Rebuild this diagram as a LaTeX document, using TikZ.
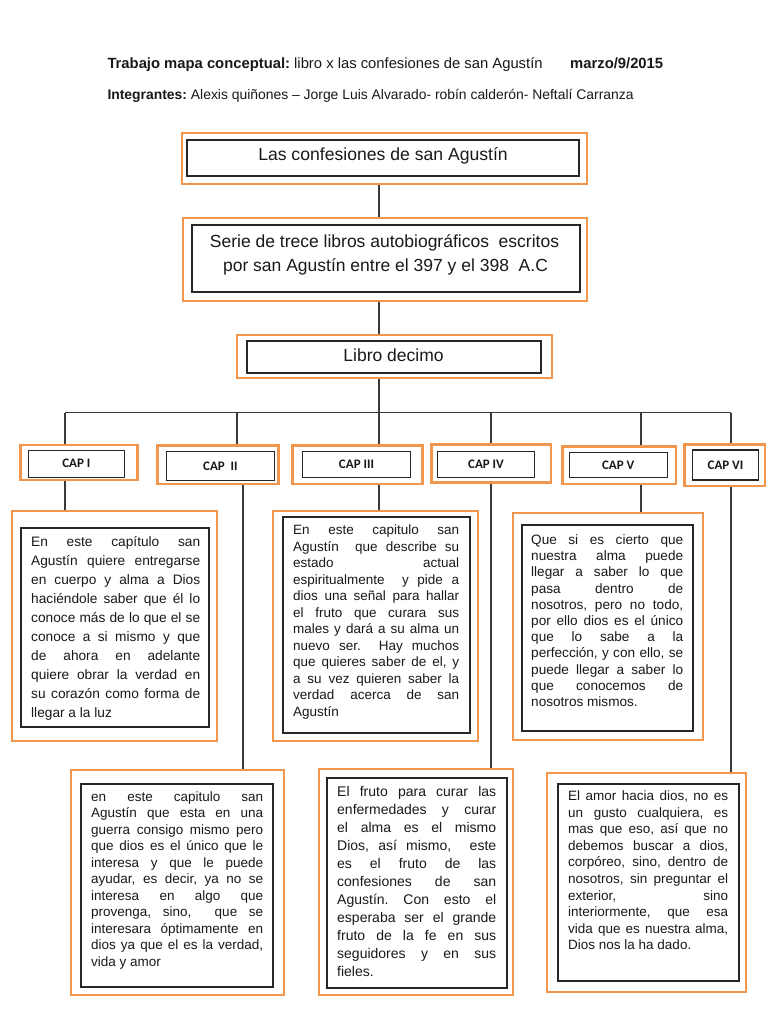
\documentclass[tikz,border=0pt]{standalone}
\usepackage{fontspec}
\setmainfont{Liberation Sans}
\newfontfamily\capfont{Carlito}
\definecolor{orng}{HTML}{F1974D}
\definecolor{conncol}{HTML}{3A3A3A}
\frenchspacing
\newcommand\jl[1]{\makebox[\linewidth][s]{#1}\\}
\newcommand\bodytext[4]{\parbox[t]{#1pt}{\frenchspacing\fontsize{#2pt}{#3pt}\selectfont\noindent\ignorespaces #4}}
\begin{document}
\begin{tikzpicture}[x=1pt,y=-1pt,
  obox/.style={draw=orng, line width=2.8pt, inner sep=0pt, fill=white},
  ibox/.style={draw=black!85, line width=1.1pt, inner sep=0pt},
  conn/.style={draw=conncol, line width=1.2pt},
  lbl/.style={inner sep=0pt, anchor=base, text=black!90},
  body/.style={inner sep=0pt, anchor=base west, text=black!90},
  capbox/.style={ibox, text=black!90, font=\capfont\bfseries\fontsize{13pt}{15pt}\selectfont}]
\fill[white] (0,0) rectangle (768,1024);
\useasboundingbox (0,0) rectangle (768,1024);

% header
\node[lbl, anchor=base west] (hdr1) at (107.3,68.3) {\fontsize{14.8pt}{17pt}\selectfont\textbf{Trabajo mapa conceptual:} libro x las confesiones de san Agustín};
\node[lbl, anchor=base west] (hdr1b) at (570,68.3) {\fontsize{14.8pt}{17pt}\selectfont\textbf{marzo/9/2015}};
\node[lbl, anchor=base west] (hdr2) at (107.3,99.3) {\fontsize{13.9pt}{17pt}\selectfont\textbf{Integrantes:} Alexis quiñones – Jorge Luis Alvarado- robín calderón- Neftalí Carranza};

% top boxes
\node[obox, minimum width=405pt, minimum height=51pt] (b1o) at (384.5,158.5) {};
\node[ibox, minimum width=392pt, minimum height=36pt] (b1i) at (383,158) {};
\node[lbl] (b1t) at (383,161) {\fontsize{17.6pt}{20pt}\selectfont Las confesiones de san Agustín};

\node[obox, minimum width=404pt, minimum height=83pt] (b2o) at (385,259.5) {};
\node[ibox, minimum width=388pt, minimum height=67pt] (b2i) at (386,258.5) {};
\node[lbl] (b2t1) at (384.5,247.7) {\fontsize{17.5pt}{20pt}\selectfont Serie de trece libros autobiográficos\ \ escritos};
\node[lbl] (b2t2) at (385.5,271.7) {\fontsize{17.5pt}{20pt}\selectfont por san Agustín entre el 397 y el 398\ \ A.C};

\node[obox, minimum width=315pt, minimum height=43pt] (b3o) at (394.5,356.5) {};
\node[ibox, minimum width=294pt, minimum height=32pt] (b3i) at (394,357) {};
\node[lbl] (b3t) at (393.5,361.7) {\fontsize{17.5pt}{20pt}\selectfont Libro decimo};

% chapter boxes
\node[obox, minimum width=116.6pt, minimum height=35pt] (c1o) at (79,462.5) {};
\node[capbox, minimum width=96pt, minimum height=27.3pt] (c1i) at (76.3,463.7) {CAP I};
\node[obox, minimum width=121pt, minimum height=38.3pt] (c2o) at (217.8,464.9) {};
\node[capbox, minimum width=107.3pt, minimum height=29pt] (c2i) at (220.4,466.2) {CAP\ \ II};
\node[obox, minimum width=130pt, minimum height=38.3pt] (c3o) at (357.7,464.9) {};
\node[capbox, minimum width=108.4pt, minimum height=25.6pt] (c3i) at (356.5,464.5) {CAP III};
\node[obox, minimum width=119.3pt, minimum height=38.4pt] (c4o) at (491.4,463.5) {};
\node[capbox, minimum width=96.6pt, minimum height=25.6pt] (c4i) at (486,464.5) {CAP IV};
\node[obox, minimum width=113.3pt, minimum height=37.3pt] (c5o) at (619.4,465.4) {};
\node[capbox, minimum width=98.3pt, minimum height=25pt] (c5i) at (618.2,464.8) {CAP V};
\node[obox, minimum width=80.7pt, minimum height=41.7pt] (c6o) at (724.7,465.2) {};
\node[capbox, minimum width=65.6pt, minimum height=30pt] (c6i) at (725.5,465) {CAP VI\hspace{8pt}};

% text boxes
\node[obox, minimum width=205pt, minimum height=230pt] (t1o) at (114.5,626) {};
\node[ibox, minimum width=188pt, minimum height=199pt] (t1i) at (115,627.5) {};
\node[obox, minimum width=205pt, minimum height=230pt] (t3o) at (375.5,626) {};
\node[ibox, minimum width=187pt, minimum height=216pt] (t3i) at (376.5,625) {};
\node[obox, minimum width=190pt, minimum height=227pt] (t5o) at (608,626.5) {};
\node[ibox, minimum width=171pt, minimum height=206pt] (t5i) at (607.5,628) {};
\node[obox, minimum width=213pt, minimum height=225pt] (t2o) at (177.5,882.5) {};
\node[ibox, minimum width=192pt, minimum height=203pt] (t2i) at (177,885.5) {};
\node[obox, minimum width=194pt, minimum height=226pt] (t4o) at (416,882) {};
\node[ibox, minimum width=180pt, minimum height=210pt] (t4i) at (417,883) {};
\node[obox, minimum width=199pt, minimum height=219pt] (t6o) at (646.5,882.5) {};
\node[ibox, minimum width=181pt, minimum height=197pt] (t6i) at (648.5,882.5) {};

% body texts
\node[body] (t1txt) at (31,546.2) {\bodytext{169}{13.7}{19}{\jl{En este capítulo san}
\jl{Agustín quiere entregarse}
\jl{en cuerpo y alma a Dios}
\jl{haciéndole saber que él lo}
\jl{conoce más de lo que el se}
\jl{conoce a si mismo y que}
\jl{de ahora en adelante}
\jl{quiere obrar la verdad en}
\jl{su corazón como forma de}
llegar a la luz}};

\node[body] (t3txt) at (293,534.5) {\bodytext{166}{13.5}{16.5}{\jl{En este capitulo san}
\jl{Agustín\ \ que describe su}
\jl{estado actual}
\jl{espiritualmente\ \ y pide a}
\jl{dios una señal para hallar}
\jl{el fruto que curara sus}
\jl{males y dará a su alma un}
\jl{nuevo ser.\ \ Hay muchos}
\jl{que quieres saber de el, y}
\jl{a su vez quieren saber la}
\jl{verdad acerca de san}
Agustín}};

\node[body] (t5txt) at (531,544.5) {\bodytext{152}{13.6}{16.2}{\jl{Que si es cierto que}
\jl{nuestra alma puede}
\jl{llegar a saber lo que}
\jl{pasa dentro de}
\jl{nosotros, pero no todo,}
\jl{por ello dios es el único}
\jl{que lo sabe a la}
\jl{perfección, y con ello, se}
\jl{puede llegar a saber lo}
\jl{que conocemos de}
nosotros mismos.}};

\node[body] (t2txt) at (91,801.2) {\bodytext{172}{13.5}{16.5}{\jl{en este capitulo san}
\jl{Agustín que esta en una}
\jl{guerra consigo mismo pero}
\jl{que dios es el único que le}
\jl{interesa y que le puede}
\jl{ayudar, es decir, ya no se}
\jl{interesa en algo que}
\jl{provenga, sino,\ \ que se}
\jl{interesara óptimamente en}
\jl{dios ya que el es la verdad,}
vida y amor}};

\node[body] (t4txt) at (337,796.2) {\bodytext{159}{14}{18}{\jl{El fruto para curar las}
\jl{enfermedades y curar}
\jl{el alma es el mismo}
\jl{Dios, así mismo,\ \ este}
\jl{es el fruto de las}
\jl{confesiones de san}
\jl{Agustín. Con esto el}
\jl{esperaba ser el grande}
\jl{fruto de la fe en sus}
\jl{seguidores y en sus}
fieles.}};

\node[body] (t6txt) at (568,800.5) {\bodytext{160}{13.5}{16.6}{\jl{El amor hacia dios, no es}
\jl{un gusto cualquiera, es}
\jl{mas que eso, así que no}
\jl{debemos buscar a dios,}
\jl{corpóreo, sino, dentro de}
\jl{nosotros, sin preguntar el}
\jl{exterior, sino}
\jl{interiormente, que esa}
\jl{vida que es nuestra alma,}
Dios nos la ha dado.}};

% connector columns
\coordinate (xA) at (379,0);
\coordinate (xB) at (237,0);
\coordinate (xB2) at (243,0);
\coordinate (xD) at (491,0);
\coordinate (xE) at (641,0);
\coordinate (busL) at (65,412.5);
\coordinate (busR) at (731,412.5);

\draw[conn] (b1o.south -| xA) -- (b2o.north -| xA);
\draw[conn] (b2o.south -| xA) -- (b3o.north -| xA);
\draw[conn] (b3o.south -| xA) -- (c3o.north -| xA);
\draw[conn] (busL) -- (busR);
\draw[conn] (busL) -- (c1o.north -| busL);
\draw[conn] (busL -| xB) -- (c2o.north -| xB);
\draw[conn] (busL -| xD) -- (c4o.north -| xD);
\draw[conn] (busL -| xE) -- (c5o.north -| xE);
\draw[conn] (busR) -- (c6o.north -| busR);

\draw[conn] (c1o.south -| busL) -- (t1o.north -| busL);
\draw[conn] (c2o.south -| xB2) -- (t2o.north -| xB2);
\draw[conn] (c3o.south -| xA) -- (t3o.north -| xA);
\draw[conn] (c4o.south -| xD) -- (t4o.north -| xD);
\draw[conn] (c5o.south -| xE) -- (t5o.north -| xE);
\draw[conn] (c6o.south -| busR) -- (t6o.north -| busR);
\end{tikzpicture}
\end{document}
